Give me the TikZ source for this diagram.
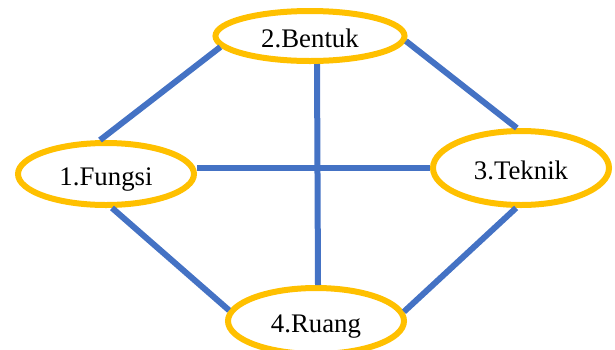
\documentclass[tikz,border=0pt]{standalone}
\usepackage{fontspec}
\setmainfont{Liberation Serif}
\usetikzlibrary{shapes.geometric}

\definecolor{ringyellow}{HTML}{FFC000}
\definecolor{linkblue}{HTML}{4472C4}

\tikzset{
  aspek/.style={ellipse, draw=ringyellow, line width=6pt, fill=white,
    inner sep=0pt, text height=28pt, text depth=5pt,
    font=\fontsize{26.8}{30}\selectfont},
  link/.style={draw=linkblue, line width=6pt}
}

\begin{document}
\begin{tikzpicture}[x=1pt,y=-1pt]
	\clip (0,0) rectangle (615,349);

	\node[aspek, minimum width=189pt, minimum height=50pt] (b) at (310,36) {2.Bentuk};
	\node[aspek, minimum width=176pt, minimum height=62pt] (f) at (106,174) {1.Fungsi};
	\node[aspek, minimum width=176pt, minimum height=74pt] (t) at (521,168) {3.Teknik};
	\node[aspek, minimum width=176pt, minimum height=66pt] (r) at (316,321) {4.Ruang};

	% sides of the diamond
	\draw[link] (b.187) -- (f.100);
	\draw[link] (b.357) -- (t.96);
	\draw[link] (f.280) -- (r.173);
	\draw[link] (t.263) -- (r.6);

	% the cross in the middle
	\draw[link] (t.west -| f.east) -- (t.west);
	\draw[link] ([xshift=7pt]b.south) -- ([xshift=2pt]r.north);
\end{tikzpicture}
\end{document}
